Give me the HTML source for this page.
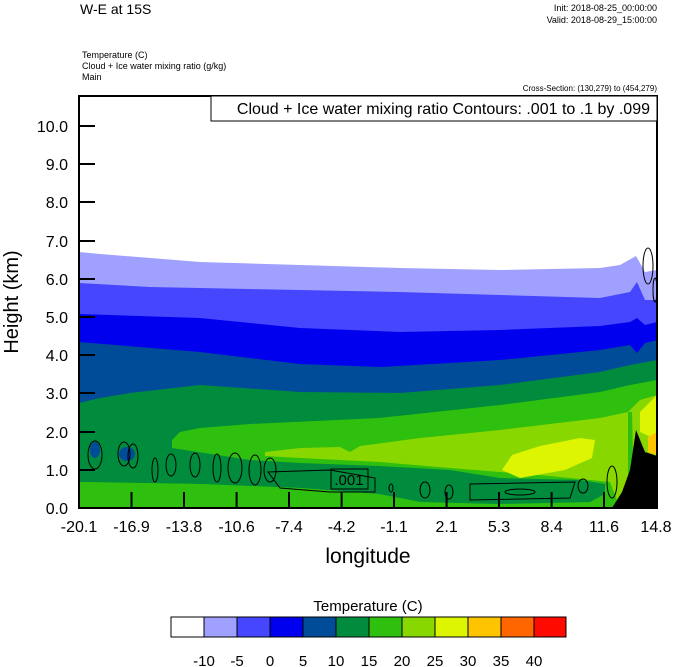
<!DOCTYPE html>
<html><head><meta charset="utf-8"><style>
body{margin:0;background:#fff;width:674px;height:667px;overflow:hidden}
svg{display:block}
text{font-family:"Liberation Sans",sans-serif;fill:#000}
</style></head><body>
<svg width="674" height="667" viewBox="0 0 674 667" xmlns="http://www.w3.org/2000/svg">
<text x="80" y="14" font-size="14">W-E at 15S</text>
<text x="657" y="11" font-size="9" text-anchor="end">Init: 2018-08-25_00:00:00</text>
<text x="657" y="23" font-size="9" text-anchor="end">Valid: 2018-08-29_15:00:00</text>
<text x="82" y="58" font-size="9">Temperature   (C)</text>
<text x="82" y="69" font-size="9">Cloud + Ice water mixing ratio   (g/kg)</text>
<text x="82" y="80" font-size="9">Main</text>
<text x="657" y="91" font-size="8" text-anchor="end">Cross-Section: (130,279) to (454,279)</text>

<g>
<rect x="79" y="96" width="578" height="412" fill="#fff"/>
<polygon fill="#a0a0ff" points="79,252 100,254 200,262 300,265 400,268 500,270 600,268 620,265 636,256 645,272 657,270 657,508 79,508"/>
<polygon fill="#4646ff" points="79,283 150,287 300,290 400,292 500,295 600,298 630,292 637,282 645,300 657,300 657,508 79,508"/>
<polygon fill="#0000ee" points="79,314 200,318 300,328 400,332 500,330 600,326 630,322 637,318 645,325 657,322 657,508 79,508"/>
<polygon fill="#004c98" points="79,342 200,352 300,364 380,367 500,360 600,350 630,345 637,353 645,343 657,340 657,508 79,508"/>
<polygon fill="#008c3c" points="79,403 100,398 130,393 200,385 300,392 400,393 500,385 600,372 630,365 657,360 657,508 79,508"/>
<polygon fill="#2fbf0e" points="172,440 180,432 200,428 250,424 379,418 500,405 600,392 630,385 657,380 657,508 79,508 79,482"/>
<polygon fill="#89d700" points="265,452 300,448 340,447 350,452 360,446 420,438 500,430 600,418 628,412 640,400 657,395 657,508 620,508 610,482 550,476 450,468 380,462 300,458 265,456"/>
<polygon fill="#2fbf0e" points="628,412 632,412 634,500 628,500"/>
<polygon fill="#ddf500" points="502,470 512,455 540,446 580,438 595,440 592,458 565,470 520,478"/>
<polygon fill="#ddf500" points="640,412 657,395 657,440 640,432"/>
<polygon fill="#ffc400" points="648,437 657,432 657,455 648,452"/>
<polygon fill="#008c3c" points="172,448 250,460 300,463 379,466 450,470 500,478 580,480 605,484 605,494 590,502 500,504 420,502 379,494 300,488 200,484 79,482 79,440 172,440"/>
<polygon fill="#2fbf0e" points="79,482 200,484 300,488 379,494 420,502 450,504 450,508 79,508"/>
<polygon fill="#000" points="612,508 622,492 630,470 636,430 645,452 657,456 657,508"/>
<g fill="#004c98"><ellipse cx="95" cy="450" rx="5" ry="8"/><ellipse cx="127" cy="454" rx="8" ry="7"/></g>
<g fill="none" stroke="#000" stroke-width="1">
<ellipse cx="95" cy="455" rx="7" ry="14"/><ellipse cx="124" cy="454" rx="6" ry="12"/><ellipse cx="133" cy="456" rx="5" ry="12"/>
<ellipse cx="155" cy="470" rx="3" ry="12"/><ellipse cx="171" cy="465" rx="5" ry="11"/><ellipse cx="195" cy="465" rx="5" ry="12"/>
<ellipse cx="217" cy="468" rx="4" ry="14"/><ellipse cx="235" cy="468" rx="7" ry="15"/><ellipse cx="255" cy="470" rx="6" ry="15"/>
<ellipse cx="270" cy="470" rx="6" ry="12"/><path d="M268,472 L330,470 L375,478 L375,492 L330,492 L280,488 Z"/>
<ellipse cx="391" cy="488" rx="2" ry="4"/><ellipse cx="425" cy="490" rx="5" ry="8"/><ellipse cx="449" cy="492" rx="4" ry="7"/>
<path d="M470,484 L575,482 L570,498 L470,500 Z"/><ellipse cx="520" cy="492" rx="15" ry="3"/><ellipse cx="583" cy="486" rx="5" ry="7"/>
<ellipse cx="612" cy="482" rx="5" ry="16"/><ellipse cx="648" cy="266" rx="5" ry="18"/><ellipse cx="655" cy="290" rx="2" ry="12"/>
</g>
<rect x="331" y="469" width="37" height="20" fill="none" stroke="#000"/>
<text x="349" y="485" font-size="15" text-anchor="middle">.001</text>
</g>

<rect x="79" y="96" width="578" height="412" fill="none" stroke="#000" stroke-width="2"/>
<rect x="211" y="96" width="446" height="25" fill="#fff" stroke="#000" stroke-width="1"/>
<text x="650" y="114" font-size="16" text-anchor="end">Cloud + Ice water mixing ratio Contours: .001 to .1 by .099</text>

<g stroke="#000" stroke-width="2">
<line x1="79" y1="126" x2="95" y2="126"/><line x1="79" y1="164" x2="95" y2="164"/><line x1="79" y1="202" x2="95" y2="202"/><line x1="79" y1="241" x2="95" y2="241"/><line x1="79" y1="279" x2="95" y2="279"/><line x1="79" y1="317" x2="95" y2="317"/><line x1="79" y1="355" x2="95" y2="355"/><line x1="79" y1="393" x2="95" y2="393"/><line x1="79" y1="432" x2="95" y2="432"/><line x1="79" y1="470" x2="95" y2="470"/>
<line x1="131.5" y1="508" x2="131.5" y2="492"/><line x1="184" y1="508" x2="184" y2="492"/><line x1="236.6" y1="508" x2="236.6" y2="492"/><line x1="289" y1="508" x2="289" y2="492"/><line x1="341.6" y1="508" x2="341.6" y2="492"/><line x1="394" y1="508" x2="394" y2="492"/><line x1="446.6" y1="508" x2="446.6" y2="492"/><line x1="499" y1="508" x2="499" y2="492"/><line x1="551.6" y1="508" x2="551.6" y2="492"/><line x1="604" y1="508" x2="604" y2="492"/>
</g>
<g font-size="16" text-anchor="end">
<text x="68" y="132">10.0</text><text x="68" y="170">9.0</text><text x="68" y="208">8.0</text><text x="68" y="247">7.0</text><text x="68" y="285">6.0</text><text x="68" y="323">5.0</text><text x="68" y="361">4.0</text><text x="68" y="399">3.0</text><text x="68" y="438">2.0</text><text x="68" y="476">1.0</text><text x="68" y="514">0.0</text>
</g>
<g font-size="16" text-anchor="middle">
<text x="79" y="532">-20.1</text><text x="131.5" y="532">-16.9</text><text x="184" y="532">-13.8</text><text x="236.6" y="532">-10.6</text><text x="289" y="532">-7.4</text><text x="341.6" y="532">-4.2</text><text x="394" y="532">-1.1</text><text x="446.6" y="532">2.1</text><text x="499" y="532">5.3</text><text x="551.6" y="532">8.4</text><text x="604" y="532">11.6</text><text x="656" y="532">14.8</text>
</g>
<text x="368" y="563" font-size="21" text-anchor="middle">longitude</text>
<text transform="translate(18,302) rotate(-90)" font-size="20" text-anchor="middle">Height (km)</text>

<text x="368" y="611" font-size="15" text-anchor="middle">Temperature  (C)</text>
<g stroke="#000" stroke-width="1">
<rect x="171" y="617" width="33" height="20" fill="#fff"/>
<rect x="204" y="617" width="33" height="20" fill="#a0a0ff"/>
<rect x="237" y="617" width="33" height="20" fill="#4646ff"/>
<rect x="270" y="617" width="33" height="20" fill="#0000ee"/>
<rect x="303" y="617" width="33" height="20" fill="#004c98"/>
<rect x="336" y="617" width="33" height="20" fill="#008c3c"/>
<rect x="369" y="617" width="33" height="20" fill="#2fbf0e"/>
<rect x="402" y="617" width="33" height="20" fill="#89d700"/>
<rect x="435" y="617" width="33" height="20" fill="#ddf500"/>
<rect x="468" y="617" width="33" height="20" fill="#ffc400"/>
<rect x="501" y="617" width="33" height="20" fill="#ff6600"/>
<rect x="534" y="617" width="32" height="20" fill="#ff0a00"/>
</g>
<g font-size="15" text-anchor="middle">
<text x="204" y="666">-10</text><text x="237" y="666">-5</text><text x="270" y="666">0</text><text x="303" y="666">5</text><text x="336" y="666">10</text><text x="369" y="666">15</text><text x="402" y="666">20</text><text x="435" y="666">25</text><text x="468" y="666">30</text><text x="501" y="666">35</text><text x="534" y="666">40</text>
</g>
</svg>
</body></html>
